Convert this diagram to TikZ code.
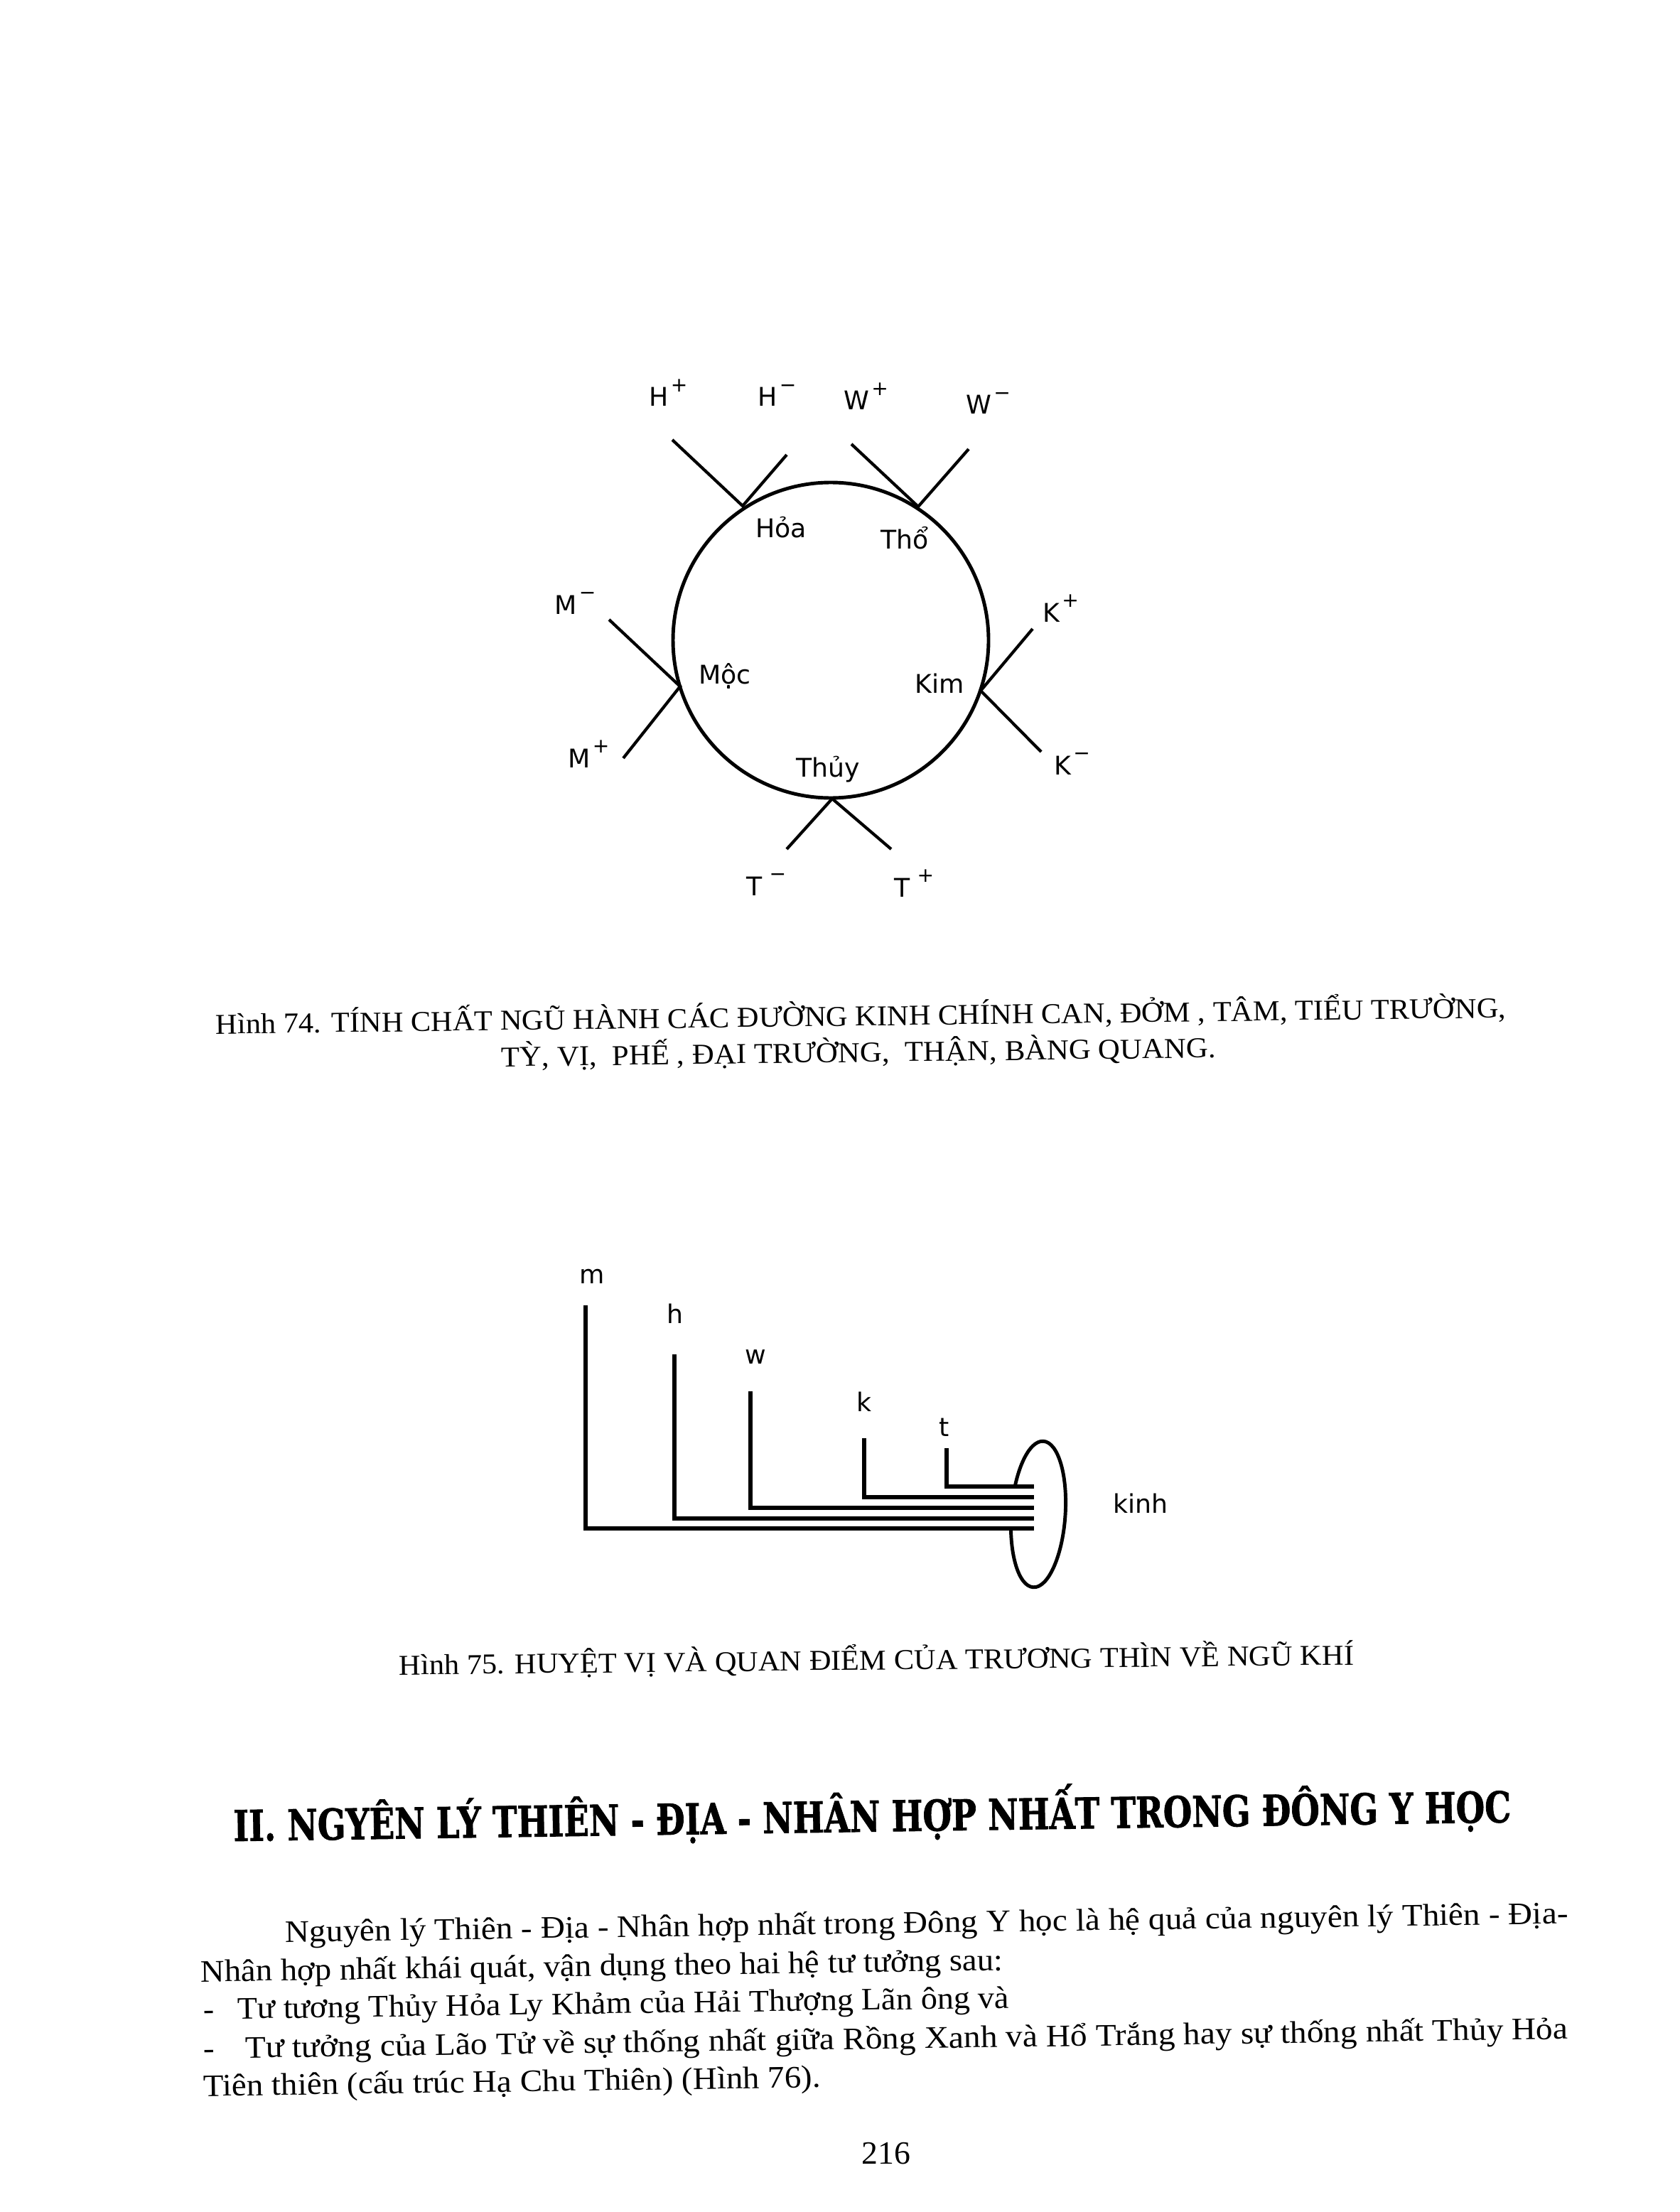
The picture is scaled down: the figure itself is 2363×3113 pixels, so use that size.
\documentclass[tikz,border=0pt]{standalone}
\usepackage{fontspec}
\usepackage{graphicx}
\setmainfont{Liberation Serif}
\newfontfamily\lblfont{DejaVu Sans}
\newfontfamily\headfont{DejaVu Serif}[BoldFeatures={FakeBold=1.5}]
\newcommand\spk[2]{#1\kern0.8pt\raisebox{1.05ex}{\fontsize{8}{9}\selectfont #2}}
\newcommand\wline[2]{\resizebox{#1cm}{\height}{#2}}
\begin{document}
\begin{tikzpicture}[x=0.01cm,y=-0.01cm,
  lbl/.style={font=\lblfont\fontsize{10.3}{12}\selectfont, inner sep=0pt},
  spoke/.style={line width=1.2pt},
  ring/.style={line width=1.4pt},
  branch/.style={line width=1.8pt, line join=miter, line cap=butt},
  txt/.style={inner sep=0pt, anchor=base west},
  capf/.style={font=\fontsize{11.5}{13}\selectfont},
  bodyf/.style={font=\fontsize{12.5}{15}\selectfont},
]
\useasboundingbox[fill=white] (0,0) rectangle (2363,3113);

% ---------- Figure 74: circle of five phases ----------
\coordinate (c) at (1169,901);
\draw[ring] (c) circle[radius=222];

\coordinate (jH) at (1045,712);  \coordinate (eHp) at (946,619);  \coordinate (eHm) at (1107,640);
\coordinate (jW) at (1292,713);  \coordinate (eWp) at (1198,625); \coordinate (eWm) at (1363,632);
\coordinate (jM) at (957,966);   \coordinate (eMm) at (857,872);  \coordinate (eMp) at (877,1067);
\coordinate (jK) at (1380,972);  \coordinate (eKp) at (1453,885); \coordinate (eKm) at (1465,1058);
\coordinate (jT) at (1171,1124); \coordinate (eTm) at (1107,1195); \coordinate (eTp) at (1254,1195);

\draw[spoke] (eHp) -- (jH) -- (eHm);
\draw[spoke] (eWp) -- (jW) -- (eWm);
\draw[spoke] (eMm) -- (jM) -- (eMp);
\draw[spoke] (eKp) -- (jK) -- (eKm);
\draw[spoke] (eTm) -- (jT) -- (eTp);

\node[lbl, anchor=base west] (lHp) at (913,572)  {\spk{H}{+}};
\node[lbl, anchor=base west] (lHm) at (1066,572) {\spk{H}{−}};
\node[lbl, anchor=base west] (lWp) at (1187,577) {\spk{W}{+}};
\node[lbl, anchor=base west] (lWm) at (1359,583) {\spk{W}{−}};
\node[lbl, anchor=base west] (lMm) at (780,864)  {\spk{M}{−}};
\node[lbl, anchor=base west] (lMp) at (799,1080) {\spk{M}{+}};
\node[lbl, anchor=base west] (lKp) at (1467,875) {\spk{K}{+}};
\node[lbl, anchor=base west] (lKm) at (1483,1090) {\spk{K}{−}};
\node[lbl, anchor=base west] (lTm) at (1050,1260) {\spk{T\kern2pt}{−}};
\node[lbl, anchor=base west] (lTp) at (1258,1262) {\spk{T\kern2pt}{+}};

\node[lbl, anchor=base] (hoa)  at (1099,757)  {Hỏa};
\node[lbl, anchor=base] (tho)  at (1273,772)  {Thổ};
\node[lbl, anchor=base] (moc)  at (1020,962)  {Mộc};
\node[lbl, anchor=base] (kim)  at (1322,975)  {Kim};
\node[lbl, anchor=base] (thuy) at (1165,1093) {Thủy};

\node[txt, capf, rotate=0.72] (cap74a) at (303,1455)
  {\wline{18.15}{Hình 74. TÍNH CHẤT NGŨ HÀNH CÁC ĐƯỜNG KINH CHÍNH CAN, ĐỞM , TÂM, TIỂU TRƯỜNG,}};
\node[txt, capf, rotate=0.72] (cap74b) at (705,1501)
  {\wline{10.05}{TỲ, VỊ,\ \ PHẾ , ĐẠI TRƯỜNG,\ \ THẬN, BÀNG QUANG.}};

% ---------- Figure 75: five channels into kinh ----------
\draw[line width=1.4pt, rotate around={-4:(1461,2131)}] (1461,2131) ellipse[x radius=38, y radius=103];
\fill[white] (1400,2092) rectangle (1456,2151);

\coordinate (mT) at (824,1837);  \coordinate (mE) at (1455,2151);
\coordinate (hT) at (949,1906);  \coordinate (hE) at (1455,2137);
\coordinate (wT) at (1056,1958); \coordinate (wE) at (1455,2122);
\coordinate (kT) at (1216,2024); \coordinate (kE) at (1455,2107);
\coordinate (tT) at (1332,2038); \coordinate (tE) at (1455,2092);

\draw[branch] (mT) |- (mE);
\draw[branch] (hT) |- (hE);
\draw[branch] (wT) |- (wE);
\draw[branch] (kT) |- (kE);
\draw[branch] (tT) |- (tE);

\node[lbl] (lm) at (833,1796) {m};
\node[lbl] (lh) at (950,1849) {h};
\node[lbl] (lw) at (1063,1910) {w};
\node[lbl] (lk) at (1216,1973) {k};
\node[lbl] (lt) at (1329,2009) {t};
\node[lbl] (lkinh) at (1605,2116) {kinh};

\node[txt, capf, rotate=0.6] (cap75) at (561,2357)
  {\wline{13.43}{Hình 75. HUYỆT VỊ VÀ QUAN ĐIỂM CỦA TRƯƠNG THÌN VỀ NGŨ KHÍ}};

% ---------- Section heading and body ----------
\node[txt, font=\headfont\bfseries\fontsize{17}{20}\selectfont, rotate=0.85] (head) at (328,2591)
  {\wline{17.97}{II. NGYÊN LÝ THIÊN - ĐỊA - NHÂN HỢP NHẤT TRONG ĐÔNG Y HỌC}};

\node[txt, bodyf, rotate=0.82] (b1) at (401,2733)
  {\wline{18.04}{Nguyên lý Thiên - Địa - Nhân hợp nhất trong Đông Y học là hệ quả của nguyên lý Thiên - Địa-}};
\node[txt, bodyf, rotate=0.82] (b2) at (282,2789)
  {\wline{11.28}{Nhân hợp nhất khái quát, vận dụng theo hai hệ tư tưởng sau:}};
\node[txt, bodyf, rotate=0.82] (b3) at (286,2842)
  {\wline{11.33}{-\hspace{0.7em}Tư tương Thủy Hỏa Ly Khảm của Hải Thượng Lãn ông và}};
\node[txt, bodyf, rotate=0.82] (b4) at (286,2897)
  {\wline{19.19}{-\hspace{0.9em}Tư tưởng của Lão Tử về sự thống nhất giữa Rồng Xanh và Hổ Trắng hay sự thống nhất Thủy Hỏa}};
\node[txt, bodyf, rotate=0.82] (b5) at (286,2950)
  {\wline{8.68}{Tiên thiên (cấu trúc Hạ Chu Thiên) (Hình 76).}};

\node[inner sep=0pt, anchor=base, font=\fontsize{13}{15}\selectfont] (pg) at (1247,3045) {216};
\end{tikzpicture}
\end{document}
